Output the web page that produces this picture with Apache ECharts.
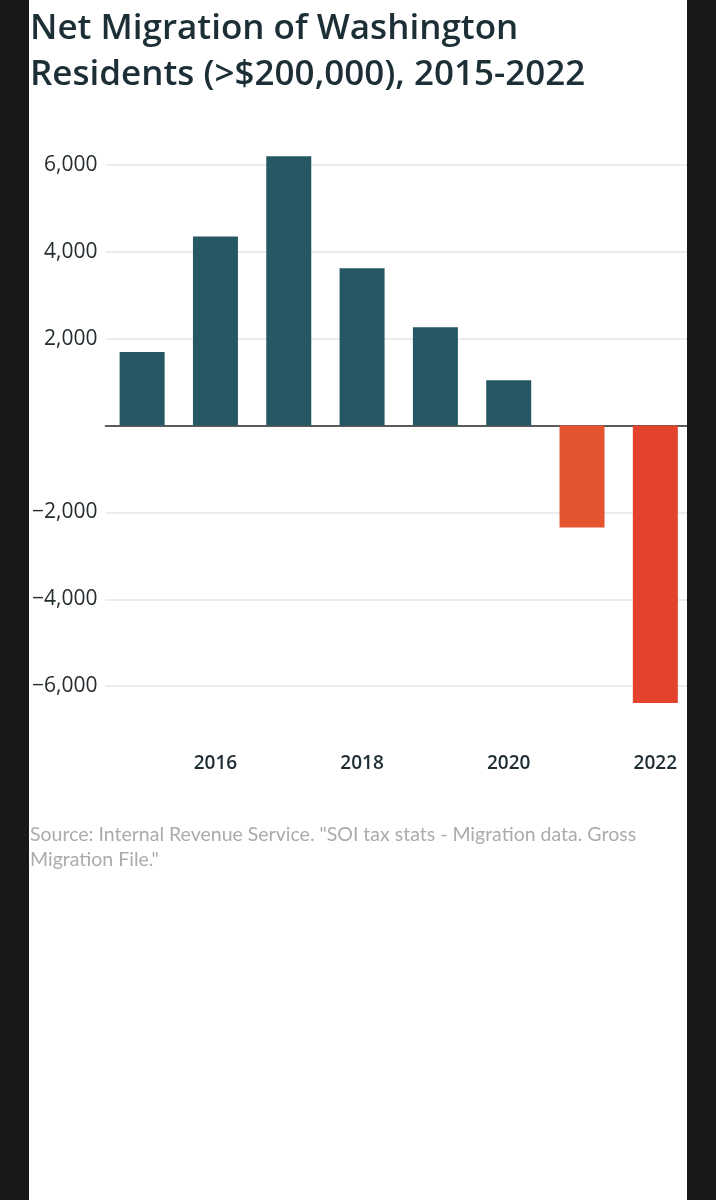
<!DOCTYPE html>
<html>
<head>
<meta charset="utf-8">
<script src="https://cdn.jsdelivr.net/npm/echarts@6/dist/echarts.min.js"></script>
<style>
    html, body {
        margin: 0;
        padding: 0;
        background: #17181a;
    }
    #panel {
        position: absolute;
        left: 29px;
        top: 0;
        width: 658px;
        height: 1200px;
        background: #fff;
        overflow: hidden;
    }
    #chart {
        width: 716px;
        height: 1200px;
    }
</style>
</head>
<body>
<div id="panel"><div id="chart"></div></div>
<script>
const years = ['2015', '2016', '2017', '2018', '2019', '2020', '2021', '2022'];
const netMigration = [1690, 4350, 6200, 3620, 2260, 1040, -2350, -6390];
const barColors = ['#255862', '#255862', '#255862', '#255862', '#255862', '#255862', '#e4542f', '#e3432d'];

const titleText = 'Net Migration of Washington\nResidents (>$200,000), 2015-2022';
const sourceText = 'Source: Internal Revenue Service. "SOI tax stats - Migration data. Gross\nMigration File."';

const chart = echarts.init(document.getElementById('chart'));

chart.setOption({
    animation: false,
    backgroundColor: '#fff',
    title: [{
        text: titleText,
        left: -4,
        top: 1,
        textStyle: {
            fontFamily: 'Open Sans',
            fontWeight: 600,
            fontSize: 35,
            lineHeight: 46,
            color: '#1d2f36'
        }
    }, {
        text: sourceText,
        left: -4,
        top: 817,
        textStyle: {
            fontFamily: 'Lato',
            fontWeight: 'normal',
            fontSize: 19.5,
            lineHeight: 25,
            color: '#ababab'
        }
    }],
    grid: {
        left: 76,
        top: 78,
        width: 587,
        height: 695
    },
    xAxis: [{
        type: 'category',
        data: years,
        position: 'bottom',
        offset: -27,
        axisLine: { show: false, onZero: false },
        axisTick: { show: false },
        axisLabel: {
            interval: (index) => index % 2 === 1,
            margin: 8,
            fontFamily: 'Open Sans',
            fontWeight: 600,
            fontSize: 19,
            color: '#1e2c33'
        }
    }, {
        // 零线
        type: 'category',
        data: years,
        axisLine: {
            show: true,
            onZero: true,
            lineStyle: { color: '#2b2b2b', width: 1.5 }
        },
        axisTick: { show: false },
        axisLabel: { show: false }
    }],
    yAxis: {
        type: 'value',
        min: -8000,
        max: 8000,
        interval: 2000,
        axisLine: { show: false },
        axisTick: { show: false },
        splitLine: {
            show: true,
            showMinLine: false,
            showMaxLine: false,
            lineStyle: { color: '#e6e6e6', width: 1.5 }
        },
        axisLabel: {
            showMinLabel: false,
            showMaxLabel: false,
            margin: 8,
            fontFamily: 'Open Sans',
            fontSize: 21,
            color: '#262d31',
            formatter: (v) => {
                if (v === 0) return '';
                const s = Math.abs(v).toLocaleString('en-US');
                return v < 0 ? '\u2212' + s : s;
            }
        }
    },
    series: [{
        type: 'bar',
        xAxisIndex: 0,
        barWidth: 45,
        data: netMigration.map((v, i) => ({
            value: v,
            itemStyle: { color: barColors[i] }
        })),
        z: 1
    }]
});
</script>
</body>
</html>
